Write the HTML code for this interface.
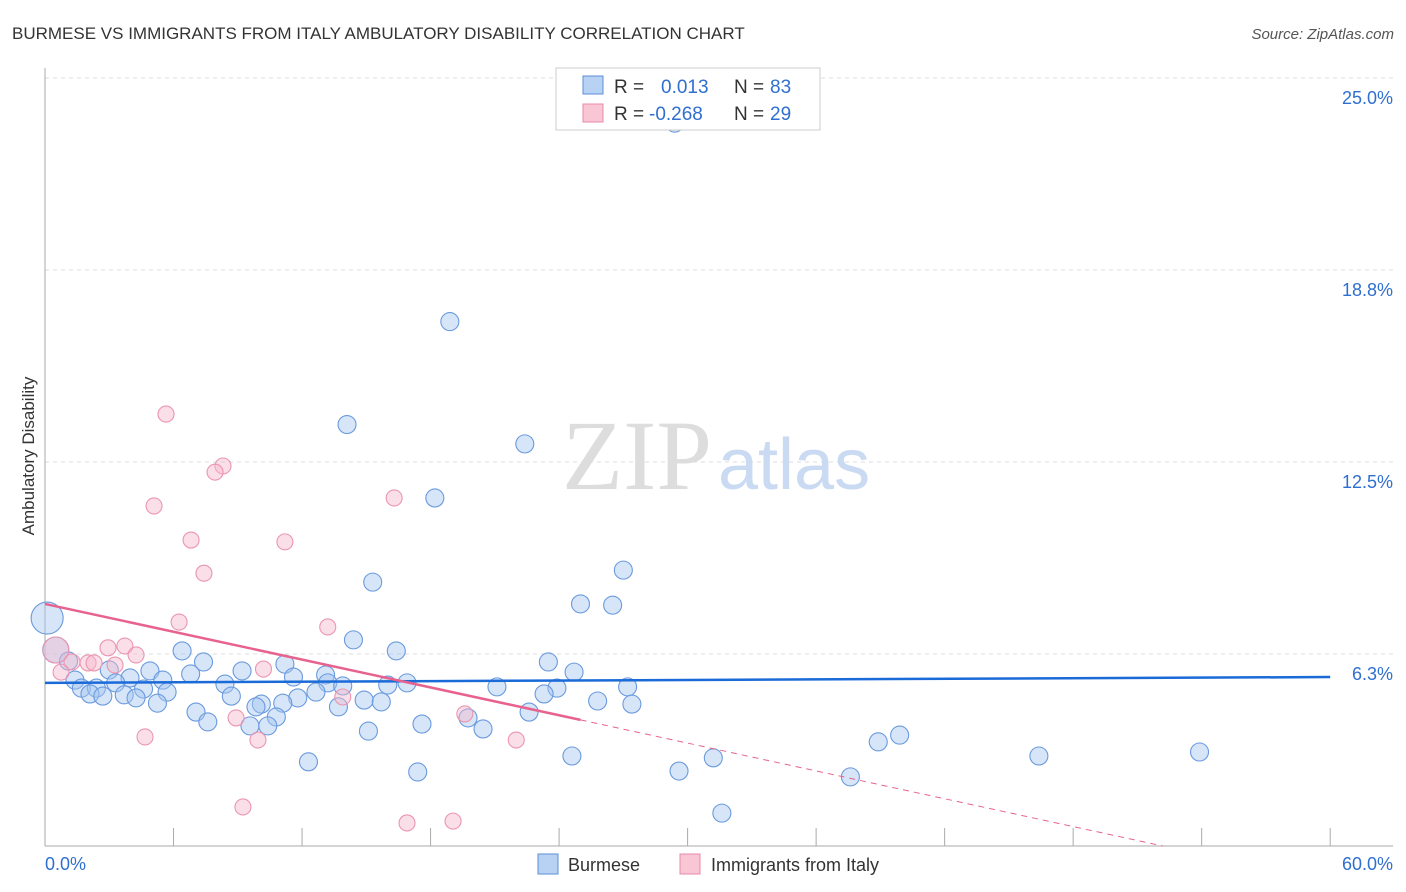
<!DOCTYPE html>
<html><head><meta charset="utf-8"><style>
body{margin:0;background:#fff;font-family:"Liberation Sans",sans-serif;}
#c{position:absolute;left:0;top:0;}
</style></head><body>
<svg id="c" width="1406" height="892">
<text x="12" y="39" font-size="17" fill="#333">BURMESE VS IMMIGRANTS FROM ITALY AMBULATORY DISABILITY CORRELATION CHART</text>
<text x="1394" y="39" font-size="15" fill="#555" font-style="italic" text-anchor="end">Source: ZipAtlas.com</text>
<text x="34" y="456" font-size="17" fill="#333" text-anchor="middle" transform="rotate(-90 34 456)">Ambulatory Disability</text>
<g id="grid"></g>
<g id="axes"></g>
<text x="712" y="489" font-size="100" fill="#ddd" text-anchor="end" font-family="Liberation Serif">ZIP</text>
<text x="718" y="489" font-size="72" fill="#c9daf2">atlas</text>
<g id="pts"></g>
<g id="trend"></g>
<g font-size="19">
<rect x="556" y="68" width="264" height="62" fill="#fff" stroke="#ccc"/>
<rect x="583" y="76" width="20" height="18" fill="#b8d2f4" stroke="#5b8fd8"/>
<rect x="583" y="104" width="20" height="18" fill="#f9c6d5" stroke="#e88aa8"/>
<text x="614" y="93" fill="#333">R =</text>
<text x="661" y="93" fill="#2f6fd0">0.013</text>
<text x="734" y="93" fill="#333">N =</text>
<text x="770" y="93" fill="#2f6fd0">83</text>
<text x="614" y="120" fill="#333">R =</text>
<text x="649" y="120" fill="#2f6fd0">-0.268</text>
<text x="734" y="120" fill="#333">N =</text>
<text x="770" y="120" fill="#2f6fd0">29</text>
</g>
<g>
<rect x="538" y="854" width="20" height="20" fill="#b8d2f4" stroke="#5b8fd8"/>
<text x="568" y="871" font-size="18" fill="#333">Burmese</text>
<rect x="680" y="854" width="20" height="20" fill="#f9c6d5" stroke="#e88aa8"/>
<text x="711" y="871" font-size="18" fill="#333">Immigrants from Italy</text>
</g>
</svg>
<script>
const yTicks=[6.25,12.5,18.75,25];
const yTickLabels=["6.3%","12.5%","18.8%","25.0%"];
const xTickVals=[0,6,12,18,24,30,36,42,48,54,60];
const burmeseX=[29.4,18.9,14.1,22.4,18.2,15.3,27.0,25.0,26.5,14.4,16.4,0.1,0.5,1.1,6.4,7.4,11.2,23.5,24.7,4.9,3.0,1.4,3.97,5.5,6.8,9.2,11.6,13.1,13.2,13.9,16.0,16.9,21.1,27.2,23.9,1.7,2.4,3.3,4.6,8.4,2.1,2.7,3.7,4.25,5.7,8.7,11.8,12.65,23.3,25.8,5.25,10.1,11.1,9.85,13.7,14.9,15.7,27.4,7.05,22.6,7.6,10.8,19.75,9.57,10.4,17.6,20.45,15.1,24.6,31.2,12.3,17.4,29.6,38.9,39.9,46.4,53.9,37.6,31.6];
const burmeseY=[23.53,17.07,13.72,13.09,11.33,8.59,8.98,7.88,7.84,6.71,6.35,7.42,6.38,6.02,6.35,5.99,5.92,5.99,5.66,5.7,5.73,5.4,5.47,5.4,5.6,5.7,5.5,5.57,5.31,5.21,5.24,5.31,5.18,5.18,5.14,5.14,5.14,5.31,5.11,5.27,4.95,4.88,4.92,4.82,5.01,4.88,4.82,5.01,4.95,4.72,4.65,4.62,4.65,4.53,4.53,4.75,4.69,4.62,4.36,4.36,4.04,4.2,4.17,3.91,3.91,3.97,3.81,3.74,2.93,2.87,2.74,2.41,2.44,3.39,3.61,2.93,3.06,2.25,1.07];
const burmeseR=[9,9,9,9,9,9,9,9,9,9,9,16,13,9,9,9,9,9,9,9,9,9,9,9,9,9,9,9,9,9,9,9,9,9,9,9,9,9,9,9,9,9,9,9,9,9,9,9,9,9,9,9,9,9,9,9,9,9,9,9,9,9,9,9,9,9,9,9,9,9,9,9,9,9,9,9,9,9,9];
const italyX=[5.65,5.09,8.31,7.94,6.82,11.2,16.3,7.42,6.26,13.2,2.94,3.73,4.25,0.51,1.26,2.01,2.29,3.27,0.75,10.2,13.9,8.92,19.6,4.67,9.94,22.0,9.24,16.9,19.05];
const italyY=[14.06,11.07,12.37,12.17,9.96,9.9,11.33,8.88,7.29,7.13,6.45,6.51,6.22,6.38,5.99,5.96,5.96,5.89,5.66,5.76,4.85,4.17,4.3,3.55,3.45,3.45,1.27,0.75,0.81];
const italyR=[8,8,8,8,8,8,8,8,8,8,8,8,8,13,8,8,8,8,8,8,8,8,8,8,8,8,8,8,8];
const blueTrend=[5.31,5.50];
const pinkTrend=[7.88,-0.151];
const X=v=>45+v*21.42, Y=v=>846-v*30.72;
const NS="http://www.w3.org/2000/svg";
function mk(t,a,p){const e=document.createElementNS(NS,t);for(const k in a)e.setAttribute(k,a[k]);p.appendChild(e);return e;}
const grid=document.getElementById('grid'),axes=document.getElementById('axes');
yTicks.forEach((v,i)=>{
 const l=mk('line',{x1:45,x2:1393,y1:Y(v),y2:Y(v),stroke:'#ddd','stroke-dasharray':'4,4'},grid);
 
 
 const t=mk('text',{x:1393,y:Y(v)+26,'font-size':18,fill:'#2f6fd0','text-anchor':'end'},axes);
 t.textContent=yTickLabels[i];
 
 
});
mk('line',{x1:45,x2:45,y1:68,y2:846,stroke:'#aaa'},axes);
mk('line',{x1:45,x2:1393,y1:846,y2:846,stroke:'#aaa'},axes);
xTickVals.forEach(v=>{const l=mk('line',{x1:X(v),x2:X(v),y1:828,y2:846,stroke:'#aaa'},axes);
 
 });
let t=mk('text',{x:45,y:870,'font-size':18,fill:'#2f6fd0'},axes);t.textContent="0.0%";


t=mk('text',{x:1393,y:870,'font-size':18,fill:'#2f6fd0','text-anchor':'end'},axes);t.textContent="60.0%";


const pts=document.getElementById('pts');
burmeseX.forEach((v,i)=>{const c=mk('circle',{cx:X(v),cy:Y(burmeseY[i]),r:burmeseR[i],fill:'rgba(165,198,240,0.45)',stroke:'#6a9ade','stroke-width':1.1},pts);
 
 });
italyX.forEach((v,i)=>{const c=mk('circle',{cx:X(v),cy:Y(italyY[i]),r:italyR[i],fill:'rgba(246,185,205,0.45)',stroke:'#eb95b0','stroke-width':1.1},pts);
 
 });
const tr=document.getElementById('trend');
let l=mk('line',{x1:X(0),x2:X(60),y1:Y(blueTrend[0]),y2:Y(blueTrend[1]),stroke:'#1a6ad8','stroke-width':2.5},tr);


const pe=25, pz=-pinkTrend[0]/pinkTrend[1];
l=mk('line',{x1:X(0),x2:X(pe),y1:Y(pinkTrend[0]),y2:Y(pinkTrend[0]+pinkTrend[1]*pe),stroke:'#e8628e','stroke-width':2.5},tr);


l=mk('line',{x1:X(pe),x2:X(pz),y1:Y(pinkTrend[0]+pinkTrend[1]*pe),y2:Y(0),stroke:'#e8628e','stroke-width':1,'stroke-dasharray':'6,5'},tr);


</script>
</body></html>
